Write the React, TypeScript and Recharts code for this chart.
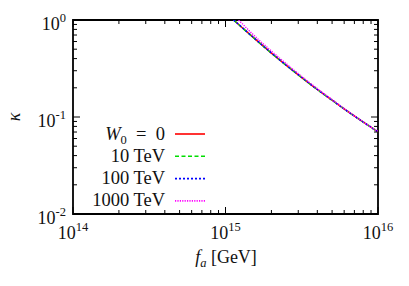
import React from "react";
import { LineChart, Line, XAxis, YAxis, ReferenceArea } from "recharts";

// f_a [GeV] sample points and kappa for each W_0
const FA = [1.13e15, 1.22e15, 1.5e15, 2e15, 3e15, 4e15, 5e15, 6e15, 7.5e15, 1e16];
const K_W0_0 = [1.0, 0.898, 0.673, 0.456, 0.272, 0.192, 0.149, 0.121, 0.095, 0.0703];
const K_10TEV = [1.0, 0.898, 0.673, 0.456, 0.272, 0.192, 0.149, 0.121, 0.095, 0.0703];
const K_100TEV = [1.0, 0.9, 0.675, 0.457, 0.273, 0.192, 0.149, 0.121, 0.095, 0.0703];
const K_1000TEV = [null, 1.0, 0.72, 0.478, 0.28, 0.196, 0.151, 0.122, 0.0955, 0.0705];

const X_DECADES = [1e14, 1e15, 1e16];
const Y_DECADES = [1e-2, 1e-1, 1e0];
const X_LABELS = ["14", "15", "16"];
const Y_LABELS = ["-2", "-1", "0"];
const LEGEND_LABELS = ["W0", "10 TeV", "100 TeV", "1000 TeV"];

const minorTicks = (decades: number[]) => {
    const out: number[] = [];
    decades.forEach((d, i) => {
        out.push(d);
        if (i < decades.length - 1) for (let m = 2; m <= 9; m++) out.push(d * m);
    });
    return out;
};
const X_TICKS = minorTicks(X_DECADES);
const Y_TICKS = minorTicks(Y_DECADES);

const data = FA.map((fa, i) => ({
    fa,
    w0: K_W0_0[i],
    t10: K_10TEV[i],
    t100: K_100TEV[i],
    t1000: K_1000TEV[i],
}));

const SERIES = [
    { key: "w0", color: "#ff0000", dash: undefined },
    { key: "t10", color: "#00dd00", dash: "4 2.5" },
    { key: "t100", color: "#0000ff", dash: "2 2" },
    { key: "t1000", color: "#ff00ff", dash: "1.2 1.2" },
];

const W = 409;
const H = 286;
const PLOT = { left: 73, right: 378, top: 20, bottom: 214 };
const FONT = "'Liberation Serif', serif";
const FS = 18;
const LEG_FS = 18.5;
const SUP = 12.5;

const isDecade = (v: number) => Math.abs(Math.log10(v) - Math.round(Math.log10(v))) < 1e-6;

const T = (props: any) => (
    <text fontFamily={FONT} fontSize={FS} fill="#111" {...props} style={{ fontFamily: FONT, ...(props.style || {}) }} />
);

const XTick = (props: any) => {
    const { x, payload } = props;
    const v = payload.value;
    const major = isDecade(v);
    const len = major ? 7 : 4;
    const idx = X_DECADES.findIndex((d) => Math.abs(d - v) / d < 1e-6);
    return (
        <g>
            <line x1={x} x2={x} y1={PLOT.bottom} y2={PLOT.bottom - len} stroke="#000" strokeWidth={1} />
            <line x1={x} x2={x} y1={PLOT.top} y2={PLOT.top + len} stroke="#000" strokeWidth={1} />
            {major && idx >= 0 && (
                <T x={x} y={239} textAnchor="middle">
                    10
                    <tspan dy={-8} fontSize={SUP}>{X_LABELS[idx]}</tspan>
                </T>
            )}
        </g>
    );
};

const YTick = (props: any) => {
    const { y, payload } = props;
    const v = payload.value;
    const major = isDecade(v);
    const len = major ? 7 : 4;
    const idx = Y_DECADES.findIndex((d) => Math.abs(d - v) / d < 1e-6);
    return (
        <g>
            <line x1={PLOT.left} x2={PLOT.left + len} y1={y} y2={y} stroke="#000" strokeWidth={1} />
            <line x1={PLOT.right} x2={PLOT.right - len} y1={y} y2={y} stroke="#000" strokeWidth={1} />
            {major && idx >= 0 && (
                <T x={66} y={y + 9.5} textAnchor="end">
                    10
                    <tspan dy={-8} fontSize={SUP}>{Y_LABELS[idx]}</tspan>
                </T>
            )}
        </g>
    );
};

const Annotations = () => (
    <g>
        <T x={0} y={0} transform="translate(20 117) rotate(-90)" textAnchor="middle" fontStyle="italic">
            κ
        </T>
        <T x={226} y={263} textAnchor="middle">
            <tspan fontStyle="italic">f</tspan>
            <tspan dy={4} fontSize={SUP} fontStyle="italic">a</tspan>
            <tspan dy={-4}>{"\u00a0[GeV]"}</tspan>
        </T>
        {SERIES.map((s, i) => {
            const y = 134 + i * 22.3;
            return (
                <g key={s.key}>
                    <T x={165} y={y + 5.5} textAnchor="end" fontSize={LEG_FS}>
                        {i === 0 ? (
                            <>
                                <tspan fontStyle="italic">W</tspan>
                                <tspan dy={4} fontSize={SUP}>0</tspan>
                                <tspan dy={-4}>{"\u00a0\u00a0=\u00a0\u00a00"}</tspan>
                            </>
                        ) : (
                            LEGEND_LABELS[i]
                        )}
                    </T>
                    <line x1={175} x2={205} y1={y} y2={y} stroke={s.color} strokeWidth={1.6} strokeDasharray={s.dash} />
                </g>
            );
        })}
    </g>
);

const App: React.FC = () => {
    return (
        <div style={{ position: "absolute", left: 0, top: 0, background: "#fff" }}>
            <LineChart
                width={W}
                height={H}
                data={data}
                margin={{ top: PLOT.top, right: W - PLOT.right, bottom: H - PLOT.bottom - 30, left: PLOT.left - 40 }}
            >
                <XAxis
                    dataKey="fa"
                    type="number"
                    scale="log"
                    domain={[1e14, 1e16]}
                    allowDataOverflow
                    ticks={X_TICKS}
                    interval={0}
                    tick={<XTick />}
                    tickLine={false}
                    axisLine={false}
                    tickSize={0}
                    tickMargin={0}
                    height={30}
                />
                <YAxis
                    type="number"
                    scale="log"
                    domain={[1e-2, 1]}
                    allowDataOverflow
                    ticks={Y_TICKS}
                    interval={0}
                    tick={<YTick />}
                    tickLine={false}
                    axisLine={false}
                    tickSize={0}
                    tickMargin={0}
                    width={40}
                />
                {SERIES.map((s) => (
                    <Line
                        key={s.key}
                        dataKey={s.key}
                        type="monotone"
                        stroke={s.color}
                        strokeWidth={1.5}
                        strokeDasharray={s.dash}
                        dot={false}
                        isAnimationActive={false}
                        connectNulls={false}
                    />
                ))}
                <ReferenceArea x1={1e14} x2={1e16} y1={1e-2} y2={1} fill="none" stroke="#000" strokeWidth={1.8} ifOverflow="visible" />
                <Annotations />
            </LineChart>
        </div>
    );
};

export default App;
